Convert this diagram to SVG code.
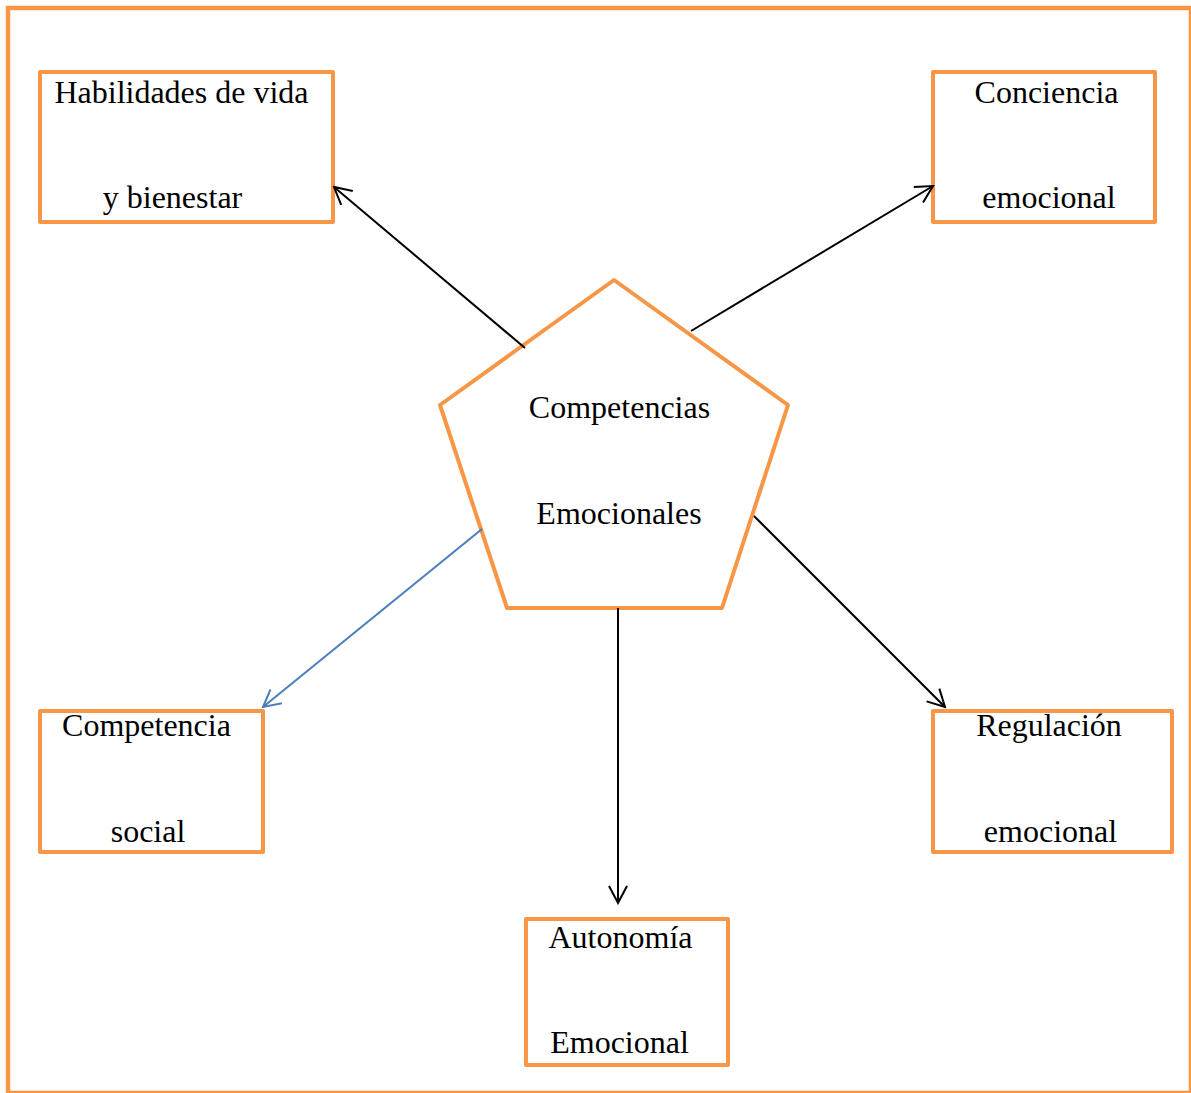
<svg xmlns="http://www.w3.org/2000/svg" width="1191" height="1093" viewBox="0 0 1191 1093">
  <style>
    .box { fill: #ffffff; stroke: #F79646; stroke-width: 4; stroke-linejoin: round; }
    .lbl { font-family: "Liberation Serif", "Times New Roman", serif; font-size: 32px; fill: #000000; text-anchor: middle; }
    .conn { fill: none; stroke: #000000; stroke-width: 2; }
    .conn-blue { fill: none; stroke: #4A7EBB; stroke-width: 2; }
  </style>
  <defs>
    <marker id="arrow" viewBox="0 0 22 22" refX="20" refY="11" markerWidth="22" markerHeight="22" markerUnits="userSpaceOnUse" orient="auto">
      <path d="M3,2 L20,11 L3,20" fill="none" stroke="#000000" stroke-width="2"/>
    </marker>
    <marker id="arrow-blue" viewBox="0 0 22 22" refX="20" refY="11" markerWidth="22" markerHeight="22" markerUnits="userSpaceOnUse" orient="auto">
      <path d="M3,2 L20,11 L3,20" fill="none" stroke="#4A7EBB" stroke-width="2"/>
    </marker>
  </defs>
  <rect x="0" y="0" width="1191" height="1093" fill="#ffffff"/>
  <rect id="frame" x="8" y="8" width="1183" height="1085" fill="none" stroke="#F79646" stroke-width="4.5"/>

  <g id="center">
    <polygon class="box" points="614,280 788,405 722,608 507,608 440,405"/>
    <text class="lbl" x="619.5" y="418">Competencias</text>
    <text class="lbl" x="619" y="524">Emocionales</text>
  </g>

  <g id="habilidades">
    <rect class="box" x="40" y="72" width="293" height="150"/>
    <text class="lbl" x="181.5" y="103">Habilidades de vida</text>
    <text class="lbl" x="172.5" y="208">y bienestar</text>
  </g>

  <g id="conciencia">
    <rect class="box" x="933" y="72" width="222" height="150"/>
    <text class="lbl" x="1046.5" y="103">Conciencia</text>
    <text class="lbl" x="1049" y="208">emocional</text>
  </g>

  <g id="competencia-social">
    <rect class="box" x="40" y="711" width="223" height="141"/>
    <text class="lbl" x="146.5" y="736">Competencia</text>
    <text class="lbl" x="148" y="842">social</text>
  </g>

  <g id="regulacion">
    <rect class="box" x="933" y="711" width="239" height="141"/>
    <text class="lbl" x="1049" y="736">Regulación</text>
    <text class="lbl" x="1050.5" y="842">emocional</text>
  </g>

  <g id="autonomia">
    <rect class="box" x="526" y="919" width="202" height="146"/>
    <text class="lbl" x="620.5" y="948">Autonomía</text>
    <text class="lbl" x="619.5" y="1053">Emocional</text>
  </g>

  <g id="connectors">
    <line class="conn" x1="525" y1="348" x2="334" y2="187" marker-end="url(#arrow)"/>
    <line class="conn" x1="691" y1="331" x2="933" y2="186" marker-end="url(#arrow)"/>
    <line class="conn" x1="754" y1="516" x2="945" y2="707" marker-end="url(#arrow)"/>
    <line class="conn" x1="618" y1="608" x2="618" y2="903" marker-end="url(#arrow)"/>
    <line class="conn-blue" x1="482" y1="529" x2="263" y2="707" marker-end="url(#arrow-blue)"/>
  </g>
</svg>
